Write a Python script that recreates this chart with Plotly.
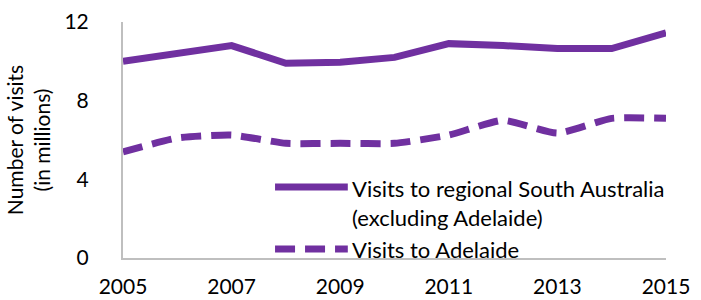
import plotly.graph_objects as go

years = [2005, 2006, 2007, 2008, 2009, 2010, 2011, 2012, 2013, 2014, 2015]
regional_sa = [10.0, 10.4, 10.8, 9.9, 9.95, 10.2, 10.9, 10.8, 10.65, 10.65, 11.45]
adelaide = [5.4, 6.1, 6.25, 5.83, 5.83, 5.83, 6.25, 7.0, 6.35, 7.1, 7.1]
y_ticks = [0, 4, 8, 12]
x_ticks = [2005, 2007, 2009, 2011, 2013, 2015]
series_names = ["Visits to regional South Australia<br>(excluding Adelaide)", "Visits to Adelaide"]

PURPLE = "#7030A0"
FONT = "Lato"

fig = go.Figure()
fig.add_trace(go.Scatter(x=years, y=regional_sa, mode="lines", name=series_names[0],
                         line=dict(color=PURPLE, width=7), showlegend=False))
fig.add_trace(go.Scatter(x=years, y=adelaide, mode="lines", name=series_names[1],
                         line=dict(color=PURPLE, width=7, dash="20px,10px", shape="spline", smoothing=0.5),
                         showlegend=False))

# custom legend
fig.add_shape(type="line", xref="paper", yref="paper", x0=0.28, x1=0.414, y0=0.301, y1=0.301,
              line=dict(color=PURPLE, width=7))
fig.add_shape(type="line", xref="paper", yref="paper", x0=0.28, x1=0.414, y0=0.038, y1=0.038,
              line=dict(color=PURPLE, width=7, dash="20px,10px"))
fig.add_annotation(xref="paper", yref="paper", x=0.418, y=0.232, xanchor="left", yanchor="middle",
                   text=series_names[0], showarrow=False, align="left",
                   font=dict(family=FONT, size=22, color="#000"))
fig.add_annotation(xref="paper", yref="paper", x=0.418, y=0.036, xanchor="left", yanchor="middle",
                   text=series_names[1], showarrow=False, align="left",
                   font=dict(family=FONT, size=22, color="#000"))

fig.update_layout(
    width=701, height=300,
    margin=dict(l=123, r=35, t=22, b=42),
    paper_bgcolor="white", plot_bgcolor="white",
    font=dict(family=FONT, size=21, color="#000"),
    xaxis=dict(range=[2005, 2015], tickvals=x_ticks, showgrid=False, zeroline=False, automargin=False,
               showline=True, linecolor="#BFBFBF", linewidth=2, ticks="outside", ticklen=9,
               tickcolor="rgba(0,0,0,0)", tickfont=dict(size=21)),
    yaxis=dict(range=[0, 12], tickvals=y_ticks, showgrid=False, zeroline=False, automargin=False,
               showline=True, linecolor="#BFBFBF", linewidth=2, ticks="outside", ticklen=28,
               tickcolor="rgba(0,0,0,0)", tickfont=dict(size=21),
               title=dict(text="Number of visits<br>(in millions)", font=dict(size=21), standoff=8)),
)

fig.write_html("out.html", post_script="document.body.style.margin='0';",
               config={"displayModeBar": False})
